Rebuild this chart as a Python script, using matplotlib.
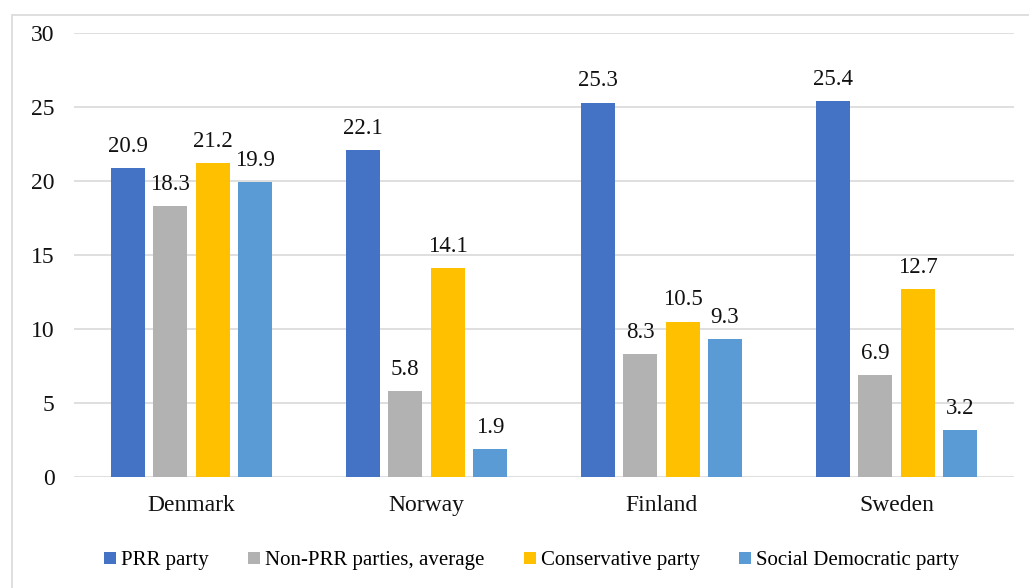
import numpy as np
import matplotlib.pyplot as plt
from matplotlib.patches import Rectangle

countries = ["Denmark", "Norway", "Finland", "Sweden"]
series = ["PRR party", "Non-PRR parties, average", "Conservative party", "Social Democratic party"]
prr = [20.9, 22.1, 25.3, 25.4]
non_prr = [18.3, 5.8, 8.3, 6.9]
conservative = [21.2, 14.1, 10.5, 12.7]
social_dem = [19.9, 1.9, 9.3, 3.2]
colors = ["#4472C4", "#B2B2B2", "#FFC000", "#5B9BD5"]

plt.rcParams['font.family'] = ['Liberation Serif', 'DejaVu Serif']

fig = plt.figure(figsize=(10.29, 5.88), dpi=100)
ax = fig.add_axes([0.0719, 0.1888, 0.9135, 0.7551])

# light frame around the chart area
fig.patches.append(Rectangle((12 / 1029, -0.1), 1.2, 1 - 15 / 588 + 0.1,
                             transform=fig.transFigure, fill=False,
                             edgecolor="#D9D9D9", linewidth=1.2))

x = np.arange(len(countries))
width = 0.145
step = 0.18
data = [prr, non_prr, conservative, social_dem]
for i, (vals, name, c) in enumerate(zip(data, series, colors)):
    pos = x + (i - 1.5) * step
    bars = ax.bar(pos, vals, width, color=c, label=name, zorder=3)
    for b, v in zip(bars, vals):
        ax.annotate(f"{v}", (b.get_x() + b.get_width() / 2, v),
                    xytext=(0, 8), textcoords="offset points",
                    ha="center", va="bottom", fontsize=16.5, color="#111111")

ax.set_xlim(-0.5, 3.5)
ax.set_ylim(0, 30)
ax.set_yticks(range(0, 31, 5))
ax.set_xticks(x)
ax.set_xticklabels(countries)
ax.tick_params(axis="both", length=0, labelsize=17, colors="#111111")
ax.tick_params(axis="x", pad=13)
ax.tick_params(axis="y", pad=14)
ax.grid(axis="y", color="#D9D9D9", linewidth=1.2, zorder=0)
for s in ax.spines.values():
    s.set_visible(False)

ax.legend(loc="upper center", bbox_to_anchor=(0.487, -0.125), ncol=4, frameon=False,
          fontsize=15, handlelength=0.55, handleheight=0.55, handletextpad=0.25,
          columnspacing=1.9)

fig.savefig("out.png", dpi=100)
